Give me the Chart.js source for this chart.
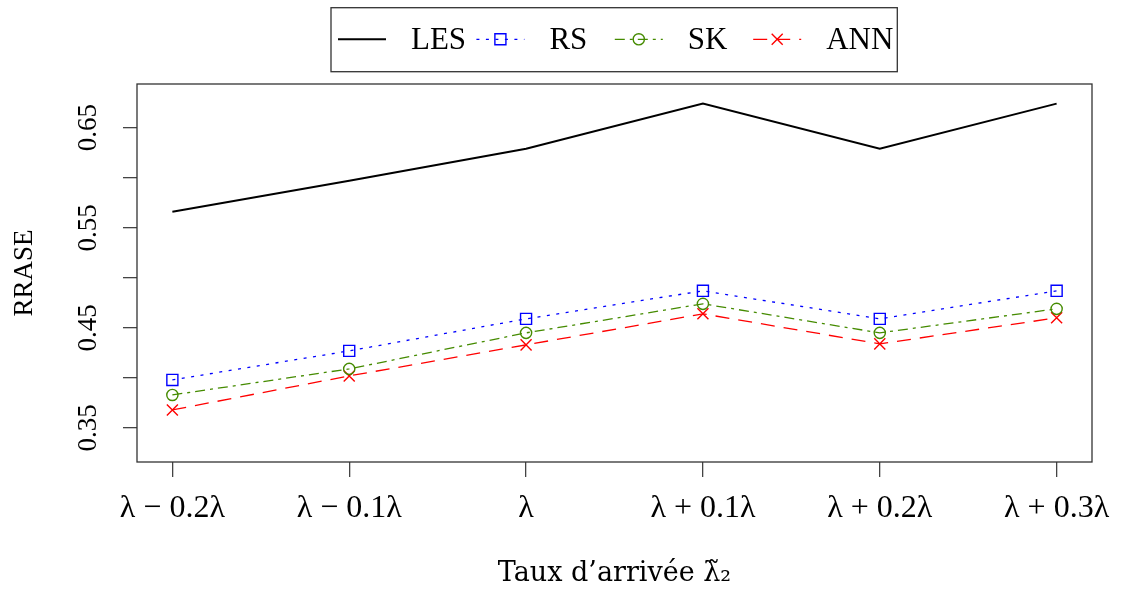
<!DOCTYPE html>
<html><head><meta charset="utf-8">
<script src="https://cdn.jsdelivr.net/npm/chart.js@4/dist/chart.umd.min.js"></script>
<style>html,body{margin:0;padding:0;background:#fff}#wrap{width:1124px;height:591px;position:relative}</style>
</head><body><div id="wrap"><canvas id="c"></canvas></div>
<script>
// ---- data ----
const categories = ['λ − 0.2λ', 'λ − 0.1λ', 'λ', 'λ + 0.1λ', 'λ + 0.2λ', 'λ + 0.3λ'];
const seriesNames = ['LES', 'RS', 'SK', 'ANN'];
const lesValues = [0.566, 0.597, 0.629, 0.674, 0.629, 0.674];
const rsValues  = [0.398, 0.427, 0.459, 0.487, 0.459, 0.487];
const skValues  = [0.383, 0.409, 0.445, 0.474, 0.445, 0.469];
const annValues = [0.368, 0.402, 0.433, 0.464, 0.434, 0.460];
const yTickValues = [0.35, 0.40, 0.45, 0.50, 0.55, 0.60, 0.65];
const yTickLabels = ['0.35', '', '0.45', '', '0.55', '', '0.65'];
const yTitle = 'RRASE';
const xTitle = 'Taux d’arrivée λ̃₂';

const FONT = '"Liberation Serif", "Times New Roman", serif';
const TITLE_FONT = '"DejaVu Serif", serif';
const toPoints = vals => vals.map((v, i) => ({ x: i, y: v }));

const datasets = [
  { label: seriesNames[0], data: toPoints(lesValues), borderColor: '#000000', borderWidth: 2, borderDash: [],
    pointRadius: 0, pointStyle: 'circle' },
  { label: seriesNames[1], data: toPoints(rsValues), borderColor: '#0000ff', borderWidth: 1.3, borderDash: [3, 6.5],
    pointStyle: 'rect', pointRadius: 7.8, pointBorderWidth: 1.4, pointBorderColor: '#0000ff', pointBackgroundColor: 'rgba(0,0,0,0)' },
  { label: seriesNames[2], data: toPoints(skValues), borderColor: '#458b00', borderWidth: 1.3, borderDash: [10, 5, 3, 5],
    pointStyle: 'circle', pointRadius: 5.6, pointBorderWidth: 1.4, pointBorderColor: '#458b00', pointBackgroundColor: 'rgba(0,0,0,0)' },
  { label: seriesNames[3], data: toPoints(annValues), borderColor: '#ff0000', borderWidth: 1.3, borderDash: [14, 9],
    pointStyle: 'crossRot', pointRadius: 7.8, pointBorderWidth: 1.4, pointBorderColor: '#ff0000', pointBackgroundColor: 'rgba(0,0,0,0)' }
];

function drawMarker(ctx, style, r, x, y) {
  ctx.beginPath();
  if (style === 'rect') {
    const s = Math.SQRT1_2 * r;
    ctx.rect(x - s, y - s, 2 * s, 2 * s);
  } else if (style === 'circle') {
    ctx.arc(x, y, r, 0, Math.PI * 2);
  } else if (style === 'crossRot') {
    const o = Math.cos(Math.PI / 4) * r;
    ctx.moveTo(x - o, y - o); ctx.lineTo(x + o, y + o);
    ctx.moveTo(x - o, y + o); ctx.lineTo(x + o, y - o);
  }
  ctx.stroke();
}

const boxPlugin = {
  id: 'rBox',
  afterDraw(chart) {
    const { ctx, chartArea: a } = chart;
    ctx.save();
    ctx.strokeStyle = '#333'; ctx.lineWidth = 1.3; ctx.setLineDash([]);
    ctx.strokeRect(a.left, a.top, a.right - a.left, a.bottom - a.top);
    ctx.restore();
  }
};

const legendPlugin = {
  id: 'rLegend',
  afterDraw(chart) {
    const ctx = chart.ctx;
    ctx.save();
    ctx.strokeStyle = '#333'; ctx.lineWidth = 1.3;
    ctx.strokeRect(331, 7.7, 566.3, 64);
    chart.data.datasets.forEach((ds, i) => {
      const cx = 362 + 138.4 * i, cy = 39.3;
      ctx.strokeStyle = ds.borderColor; ctx.lineWidth = ds.borderWidth;
      ctx.setLineDash(ds.borderDash || []);
      ctx.beginPath(); ctx.moveTo(cx - 24, cy); ctx.lineTo(cx + 24, cy); ctx.stroke();
      ctx.setLineDash([]);
      if (ds.pointRadius > 0) {
        ctx.lineWidth = ds.pointBorderWidth;
        drawMarker(ctx, ds.pointStyle, ds.pointRadius, cx, cy);
      }
      ctx.fillStyle = '#000';
      ctx.font = '31px ' + FONT;
      ctx.textBaseline = 'alphabetic'; ctx.textAlign = 'left';
      ctx.fillText(ds.label, cx + 49, 49.3);
    });
    ctx.restore();
  }
};

new Chart(document.getElementById('c'), {
  type: 'line',
  data: { datasets },
  plugins: [boxPlugin, legendPlugin],
  options: {
    responsive: true, maintainAspectRatio: false, animation: false,
    layout: { padding: { top: 84, right: 32, left: 0, bottom: 0 } },
    plugins: { legend: { display: false }, tooltip: { enabled: false } },
    elements: { line: { tension: 0, fill: false } },
    scales: {
      x: {
        type: 'linear', min: -0.2, max: 5.2,
        afterBuildTicks: s => { s.ticks = categories.map((_, i) => ({ value: i })); },
        afterFit: s => { s.height = 129; },
        ticks: { callback: v => categories[v] ?? '', font: { family: FONT, size: 32 }, color: '#000',
                 padding: 12, maxRotation: 0, minRotation: 0, autoSkip: false },
        grid: { drawOnChartArea: false, drawTicks: true, tickLength: 15, color: '#444', lineWidth: 1.3 },
        border: { display: false },
        title: { display: true, text: xTitle, font: { family: TITLE_FONT, size: 27 }, color: '#000', padding: { top: 0, bottom: 1 } }
      },
      y: {
        type: 'linear', min: 0.316, max: 0.6936,
        afterBuildTicks: s => { s.ticks = yTickValues.map(v => ({ value: v })); },
        afterFit: s => { s.width = 137; },
        ticks: { callback: (v, i) => yTickLabels[i], font: { family: FONT, size: 27 }, color: '#000',
                 padding: 10, minRotation: 90, maxRotation: 90, crossAlign: 'center', autoSkip: false },
        grid: { drawOnChartArea: false, drawTicks: true, tickLength: 14, color: '#444', lineWidth: 1.3 },
        border: { display: false },
        title: { display: true, text: yTitle, font: { family: FONT, size: 27 }, color: '#000', padding: { top: 9, bottom: 0 } }
      }
    }
  }
});
</script>
</body></html>
